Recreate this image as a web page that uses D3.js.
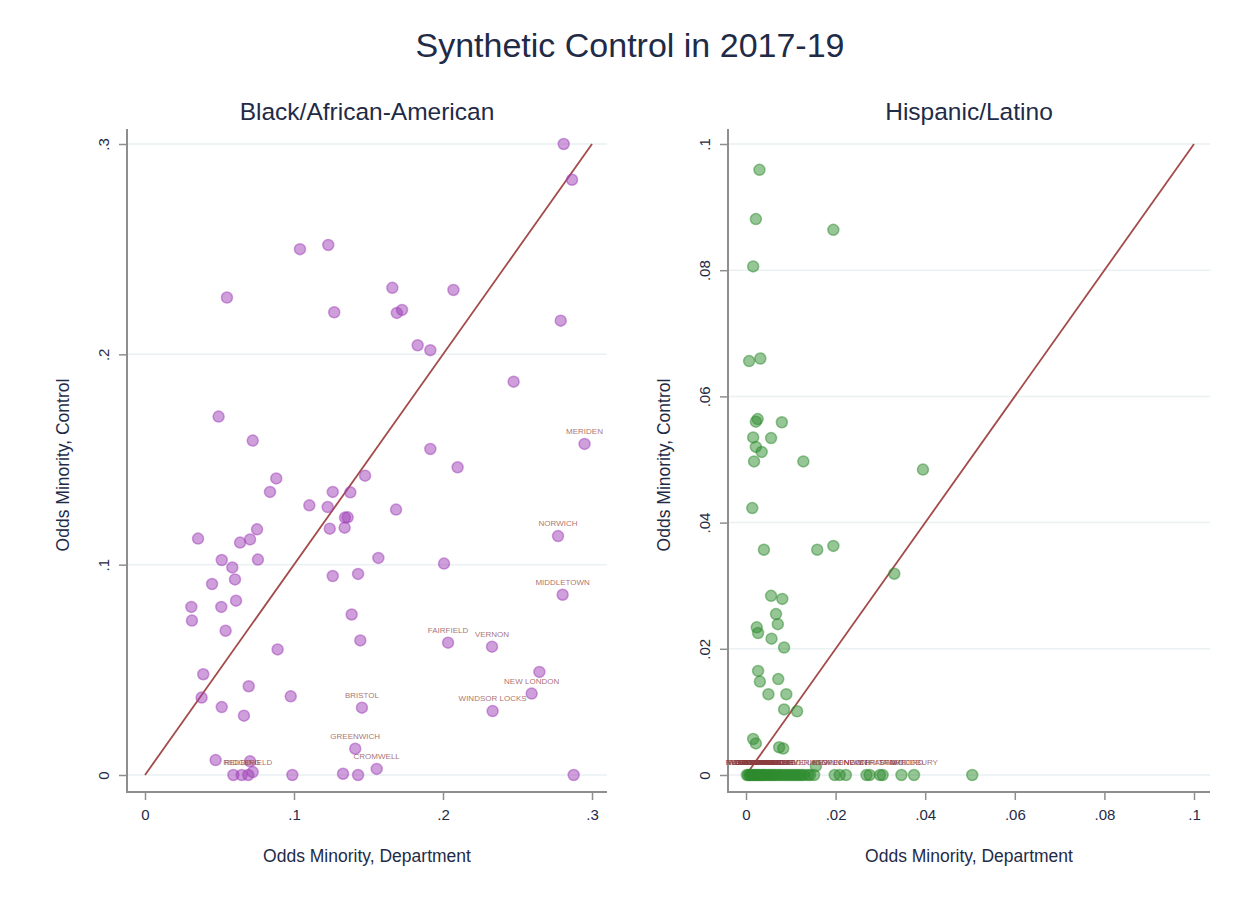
<!DOCTYPE html>
<html>

<head>
	<meta charset="utf-8">
	<script src="https://cdn.jsdelivr.net/npm/d3@7"></script>
	<style>
		body {
			margin: 0;
			background: #fff;
		}

		text {
			font-family: "Liberation Sans", Arial, sans-serif;
		}

		.axis path,
		.axis line {
			stroke: #8e8e8e;
		}
	</style>
</head>

<body>
	<svg></svg>
	<script>
		// Black/African-American: department odds (x), control odds (y), town label
		var blackX = [0.281, 0.2866, 0.104, 0.123, 0.055, 0.166, 0.207, 0.127, 0.169, 0.1725, 0.279, 0.183, 0.1915,
			0.2474, 0.0494, 0.0723, 0.295, 0.1915, 0.2098, 0.0881, 0.1477, 0.0839, 0.126, 0.1378, 0.1103, 0.1226,
			0.1342, 0.136, 0.1685, 0.124, 0.134, 0.2772, 0.0752, 0.0356, 0.0638, 0.0705, 0.0515, 0.0758, 0.1566,
			0.2007, 0.0586, 0.0604, 0.045, 0.126, 0.143, 0.2803, 0.0311, 0.0512, 0.0611, 0.0315, 0.1387, 0.0541,
			0.1445, 0.2034, 0.2329, 0.089, 0.2647, 0.0391, 0.0696, 0.2595, 0.0978, 0.038, 0.1456, 0.0515, 0.0664,
			0.2333, 0.1411, 0.1555, 0.0474, 0.0705, 0.0723, 0.0593, 0.0649, 0.0693, 0.0989, 0.1329, 0.143, 0.2877];
		var blackY = [0.300, 0.283, 0.250, 0.252, 0.227, 0.2316, 0.2306, 0.220, 0.2197, 0.2211, 0.216, 0.2043, 0.202,
			0.187, 0.1704, 0.159, 0.1574, 0.155, 0.1463, 0.141, 0.1423, 0.1346, 0.1346, 0.1344, 0.1282, 0.1274,
			0.1224, 0.1225, 0.1262, 0.1171, 0.1176, 0.1136, 0.1168, 0.1124, 0.1105, 0.112, 0.1022, 0.1024, 0.1032,
			0.1005, 0.0987, 0.093, 0.0908, 0.0946, 0.0956, 0.0857, 0.0799, 0.0799, 0.0829, 0.0734, 0.0763, 0.0686,
			0.064, 0.0629, 0.061, 0.0597, 0.049, 0.0479, 0.0422, 0.0387, 0.0374, 0.0368, 0.032, 0.0323, 0.0282,
			0.0304, 0.0125, 0.0029, 0.0071, 0.0065, 0.0014, 0, 0, 0, 0, 0.0006, 0, 0];
		var blackNames = ["", "", "", "", "", "", "", "", "", "", "", "", "",
			"", "", "", "MERIDEN", "", "", "", "", "", "", "", "", "",
			"", "", "", "", "", "NORWICH", "", "", "", "", "", "", "",
			"", "", "", "", "", "", "MIDDLETOWN", "", "", "", "", "", "",
			"", "FAIRFIELD", "VERNON", "", "", "", "", "NEW LONDON", "", "", "BRISTOL", "", "",
			"WINDSOR LOCKS", "GREENWICH", "CROMWELL", "", "", "", "", "REDDING", "RIDGEFIELD", "", "", "", ""];

		// Hispanic/Latino
		var hispX = [0.003, 0.0022, 0.0195, 0.0016, 0.0007, 0.0032, 0.0026, 0.0022, 0.008, 0.0016, 0.0056, 0.0022,
			0.0035, 0.0018, 0.0128, 0.0395, 0.0014, 0.004, 0.0159, 0.0195, 0.0331, 0.0056, 0.0081, 0.0067, 0.0071,
			0.0024, 0.0027, 0.0057, 0.0085, 0.0027, 0.0031, 0.0072, 0.005, 0.009, 0.0085, 0.0114, 0.0016, 0.0022,
			0.0074, 0.0083, 0.0156,
			0.0002, 0.0005, 0.0008, 0.001, 0.0013, 0.0016, 0.0019, 0.0022, 0.0025, 0.0028, 0.0031, 0.0035, 0.0038,
			0.0042, 0.0046, 0.005, 0.0054, 0.0058, 0.0062, 0.0066, 0.0071, 0.0075, 0.008, 0.0085, 0.009, 0.0095,
			0.01, 0.0105, 0.011, 0.0115, 0.012, 0.0125, 0.013, 0.0138, 0.0143,
			0.0152, 0.0198, 0.0209, 0.0223, 0.0269, 0.0276, 0.0299, 0.0305, 0.0347, 0.0375, 0.0505];
		var hispY = [0.0959, 0.0881, 0.0864, 0.0806, 0.0656, 0.066, 0.0564, 0.056, 0.0559, 0.0535, 0.0534, 0.052,
			0.0512, 0.0497, 0.0497, 0.0484, 0.0423, 0.0357, 0.0357, 0.0363, 0.0319, 0.0284, 0.0279, 0.0255, 0.0239,
			0.0234, 0.0225, 0.0216, 0.0202, 0.0165, 0.0148, 0.0152, 0.0128, 0.0128, 0.0104, 0.0101, 0.0057, 0.005,
			0.0044, 0.0042, 0.0014,
			0, 0, 0, 0, 0, 0, 0, 0, 0, 0, 0, 0, 0,
			0, 0, 0, 0, 0, 0, 0, 0, 0, 0, 0, 0, 0,
			0, 0, 0, 0, 0, 0, 0, 0, 0,
			0, 0, 0, 0, 0, 0, 0, 0, 0, 0, 0];
		var hispNames = ["", "", "", "", "", "", "", "", "", "", "", "",
			"", "", "", "", "", "", "", "", "", "", "", "", "",
			"", "", "", "", "", "", "", "", "", "", "", "", "",
			"", "", "",
			"REDDING", "WESTON", "RIDGEFIELD", "DARIEN", "BRISTOL", "NEW CANAAN", "EASTON", "MERIDEN", "WILTON", "CROMWELL", "MADISON", "WINDSOR LOCKS", "GUILFORD",
			"FAIRFIELD", "TRUMBULL", "NORWICH", "SHELTON", "MONROE", "CHESHIRE", "ORANGE", "SIMSBURY", "BERLIN", "", "", "", "",
			"", "", "", "", "", "", "", "", "VERNON",
			"MIDDLETOWN", "", "NEW LONDON", "GREENWICH", "", "NEW BRITAIN", "", "STRATFORD", "STAMFORD", "WOODBURY", ""];

		var blackTicks = [0, 0.1, 0.2, 0.3];
		var blackTickLabels = ["0", ".1", ".2", ".3"];
		var hispTicks = [0, 0.02, 0.04, 0.06, 0.08, 0.1];
		var hispTickLabels = ["0", ".02", ".04", ".06", ".08", ".1"];

		var width = 1249;
		var height = 901;

		var svg = d3.select('svg')
			.attr("width", width)
			.attr("height", height)

		svg.append("text")
			.attr("x", 630)
			.attr("y", 57)
			.attr("text-anchor", "middle")
			.attr("font-size", 34)
			.attr("fill", "#1f2b47")
			.text("Synthetic Control in 2017-19");

		function drawPanel(p) {
			var xScale = d3.scaleLinear().domain([0, p.max]).range([p.x0, p.x1]);
			var yScale = d3.scaleLinear().domain([0, p.max]).range([775, 144]);
			var g = svg.append("g");

			// subtitle
			g.append("text")
				.attr("x", (p.axisX + p.right) / 2)
				.attr("y", 120)
				.attr("text-anchor", "middle")
				.attr("font-size", 24.5)
				.attr("fill", "#1f2b47")
				.text(p.title);

			// gridlines
			g.selectAll(".grid")
				.data(p.ticks)
				.enter().append("line")
				.attr("x1", p.axisX)
				.attr("x2", p.right)
				.attr("y1", d => yScale(d))
				.attr("y2", d => yScale(d))
				.style("stroke", "#e9f1f2")
				.style("stroke-width", 1.5);

			// axes
			var xAxis = d3.axisBottom(xScale)
				.tickValues(p.ticks)
				.tickFormat((d, i) => p.tickLabels[i])
				.tickSize(8)
				.tickPadding(9)
				.tickSizeOuter(0);
			var gx = g.append("g")
				.attr("class", "axis")
				.attr("transform", "translate(0,792)")
				.call(xAxis);
			gx.select(".domain").remove();
			gx.append("line")
				.attr("x1", p.axisX).attr("x2", p.right)
				.attr("y1", 0).attr("y2", 0)
				.style("stroke", "#8e8e8e").style("stroke-width", 2);
			gx.selectAll("text").attr("font-size", 15).attr("fill", "#1f2b47");
			gx.selectAll(".tick line").style("stroke-width", 1.5);

			var yAxis = d3.axisLeft(yScale)
				.tickValues(p.ticks)
				.tickFormat((d, i) => p.tickLabels[i])
				.tickSize(8)
				.tickSizeOuter(0);
			var gy = g.append("g")
				.attr("class", "axis")
				.attr("transform", "translate(" + p.axisX + ",0)")
				.call(yAxis);
			gy.select(".domain").remove();
			gy.append("line")
				.attr("x1", 0).attr("x2", 0)
				.attr("y1", 129).attr("y2", 793)
				.style("stroke", "#8e8e8e").style("stroke-width", 2);
			gy.selectAll(".tick line").style("stroke-width", 1.5);
			gy.selectAll("text")
				.attr("font-size", 15)
				.attr("fill", "#1f2b47")
				.attr("x", 0)
				.attr("dy", null)
				.attr("text-anchor", "middle")
				.attr("transform", "translate(-18,0) rotate(-90)");

			// axis titles
			g.append("text")
				.attr("x", (p.axisX + p.right) / 2)
				.attr("y", 862)
				.attr("text-anchor", "middle")
				.attr("font-size", 17.5)
				.attr("fill", "#1f2b47")
				.text("Odds Minority, Department");
			g.append("text")
				.attr("transform", "translate(" + (p.axisX - 58) + ",465) rotate(-90)")
				.attr("text-anchor", "middle")
				.attr("font-size", 17.5)
				.attr("fill", "#1f2b47")
				.text("Odds Minority, Control");

			// 45 degree line
			g.append("line")
				.attr("x1", xScale(0)).attr("y1", yScale(0))
				.attr("x2", xScale(p.max)).attr("y2", yScale(p.max))
				.style("stroke", "#a34a4a")
				.style("stroke-width", 1.8);

			// points
			var pts = p.xs.map((d, i) => ({ x: d, y: p.ys[i], name: p.names[i] }));
			g.selectAll(".pt")
				.data(pts)
				.enter().append("circle")
				.attr("cx", d => xScale(d.x))
				.attr("cy", d => yScale(d.y))
				.attr("r", 5.5)
				.style("fill", p.color)
				.style("fill-opacity", 0.5)
				.style("stroke", p.color)
				.style("stroke-opacity", 0.5)
				.style("stroke-width", 1.5);

			// labels above points
			g.selectAll(".lab")
				.data(pts.filter(d => d.name !== ""))
				.enter().append("text")
				.attr("x", d => xScale(d.x))
				.attr("y", d => yScale(d.y) - 10)
				.attr("text-anchor", "middle")
				.attr("font-size", 8)
				.style("fill", "#8b3d3d")
				.style("fill-opacity", 0.75)
				.text(d => d.name);
		}

		drawPanel({
			title: "Black/African-American", max: 0.3, x0: 145, x1: 592, axisX: 127, right: 607,
			ticks: blackTicks, tickLabels: blackTickLabels,
			xs: blackX, ys: blackY, names: blackNames, color: "#a040b8"
		});
		drawPanel({
			title: "Hispanic/Latino", max: 0.1, x0: 746, x1: 1194, axisX: 728, right: 1210,
			ticks: hispTicks, tickLabels: hispTickLabels,
			xs: hispX, ys: hispY, names: hispNames, color: "#2e8b2e"
		});
	</script>
</body>

</html>
